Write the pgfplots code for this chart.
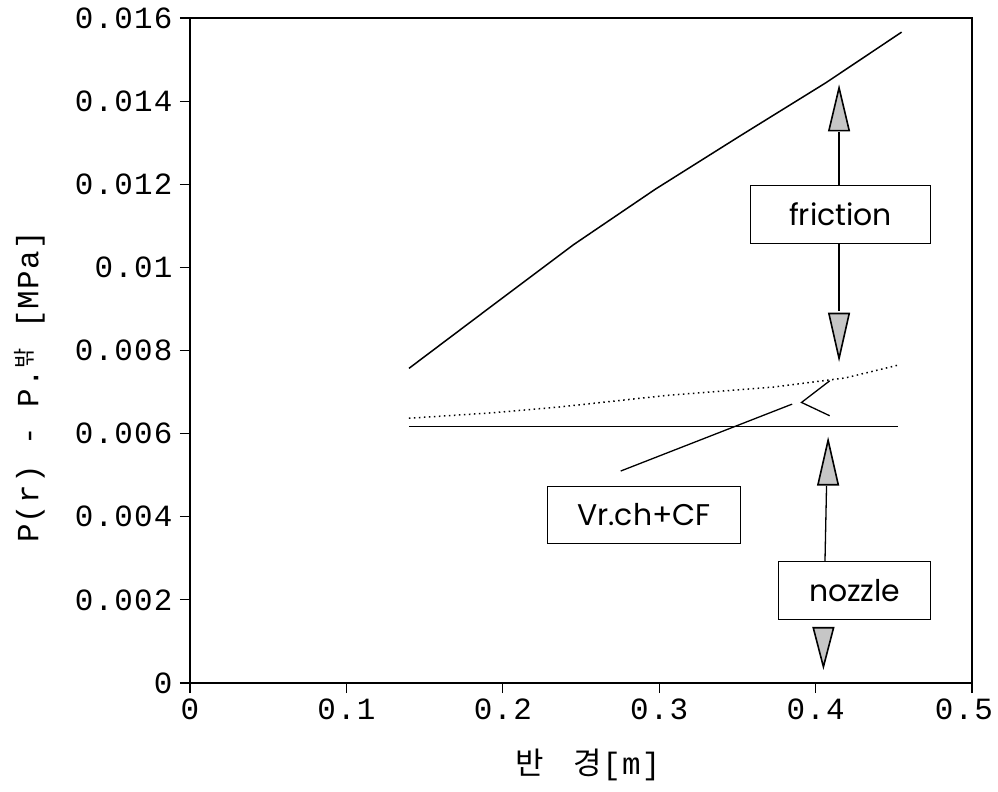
\documentclass[border=0pt]{standalone}
\usepackage{fontspec}
\usepackage{pgfplots}
\pgfplotsset{compat=1.18}
\setmainfont[LetterSpace=4]{Liberation Mono}
\newfontfamily\tickfont[LetterSpace=4]{Liberation Mono}
\newfontfamily\cjk{Noto Sans CJK KR}
\newfontfamily\annfont{Poppins}

\pgfplotstableread{
x y
0.140 0.00757
0.188 0.00893
0.245 0.01054
0.2975 0.01188
0.352 0.01317
0.4065 0.01444
0.455 0.01566
}\friction

\pgfplotstableread{
x y
0.140 0.00637
0.193 0.00650
0.236 0.00664
0.305 0.00692
0.373 0.00712
0.419 0.00734
0.453 0.00765
}\dotted

\pgfplotstableread{
x y
0.140 0.00617
0.453 0.00617
}\nozzleline

\begin{document}
\begin{tikzpicture}
\begin{axis}[
  name=ax,
  scale only axis,
  width=782bp, height=665bp,
  xmin=0, xmax=0.5, ymin=0, ymax=0.016,
  xtick={0,0.1,0.2,0.3,0.4,0.5},
  xticklabels={0,0.1,0.2,0.3,0.4,\hspace{-16bp}0.5},
  ytick={0,0.002,0.004,0.006,0.008,0.01,0.012,0.014,0.016},
  yticklabels={0,0.002,0.004,0.006,0.008,0.01,0.012,0.014,0.016},
  scaled ticks=false,
  tick align=outside,
  xtick pos=bottom, ytick pos=left,
  major tick length=10bp,
  tick style={line width=1.2bp, black},
  axis line style={line width=2bp},
  tick label style={font=\fontsize{31}{31}\tickfont},
  xticklabel style={yshift=-2bp},
  yticklabel style={xshift=-4bp},
  xlabel={{\cjk 반}\hspace{30bp}{\cjk 경}[m]},
  ylabel={P(r) - P.\raisebox{0.35ex}{\fontsize{22}{22}\cjk 밖} [MPa]},
  every axis x label/.style={at={(axis description cs:0.509,-0.123)}, anchor=center, font=\fontsize{31}{31}\selectfont},
  every axis y label/.style={at={(axis description cs:-0.205,0.445)}, anchor=center, rotate=90, font=\fontsize{31}{31}\selectfont},
  clip=false,
]
\addplot[black, line width=1.5bp] table[x=x,y=y] {\friction};
\addplot[black, line width=1.5bp, dash pattern=on 1.5bp off 3.5bp] table[x=x,y=y] {\dotted};
\addplot[black, line width=1.5bp] table[x=x,y=y] {\nozzleline};

% Vr.ch+CF annotation
\draw[line width=1.3bp] (axis cs:0.2754,0.00510) -- (axis cs:0.385,0.00671);
\draw[line width=1.3bp] (axis cs:0.409,0.00727) -- (axis cs:0.391,0.00675) -- (axis cs:0.409,0.00643);
\node[draw, line width=1.2bp, minimum width=193bp, minimum height=57bp, inner sep=0pt,
      font=\fontsize{30}{30}\annfont] at (axis cs:0.2903,0.00405) {Vr.ch+CF};

% friction annotation
\node[draw, line width=1.2bp, minimum width=180bp, minimum height=58bp, inner sep=0pt,
      font=\fontsize{30}{30}\annfont] at (axis cs:0.416,0.01128) {friction};
\draw[line width=1.3bp] (axis cs:0.415,0.01325) -- (axis cs:0.415,0.01198);
\draw[line width=1.3bp] (axis cs:0.415,0.01057) -- (axis cs:0.415,0.00895);
\draw[line width=1.6bp, fill=gray!45] (axis cs:0.415,0.01432) -- (axis cs:0.4085,0.01329) -- (axis cs:0.4215,0.01329) -- cycle;
\draw[line width=1.6bp, fill=gray!45] (axis cs:0.415,0.00781) -- (axis cs:0.4085,0.00889) -- (axis cs:0.4215,0.00889) -- cycle;

% nozzle annotation
\node[draw, line width=1.2bp, minimum width=152bp, minimum height=58bp, inner sep=0pt,
      font=\fontsize{30}{30}\annfont] at (axis cs:0.425,0.00223) {nozzle};
\draw[line width=1.3bp] (axis cs:0.407,0.00474) -- (axis cs:0.406,0.00292);
\draw[line width=1.6bp, fill=gray!45] (axis cs:0.408,0.00584) -- (axis cs:0.4015,0.00477) -- (axis cs:0.4145,0.00477) -- cycle;
\draw[line width=1.6bp, fill=gray!45] (axis cs:0.405,0.00039) -- (axis cs:0.3985,0.00133) -- (axis cs:0.4115,0.00133) -- cycle;
\end{axis}
\pgfresetboundingbox
\path (ax.south west) ++(-190bp,-109bp) rectangle ++(998bp,792bp);
\end{tikzpicture}
\end{document}
